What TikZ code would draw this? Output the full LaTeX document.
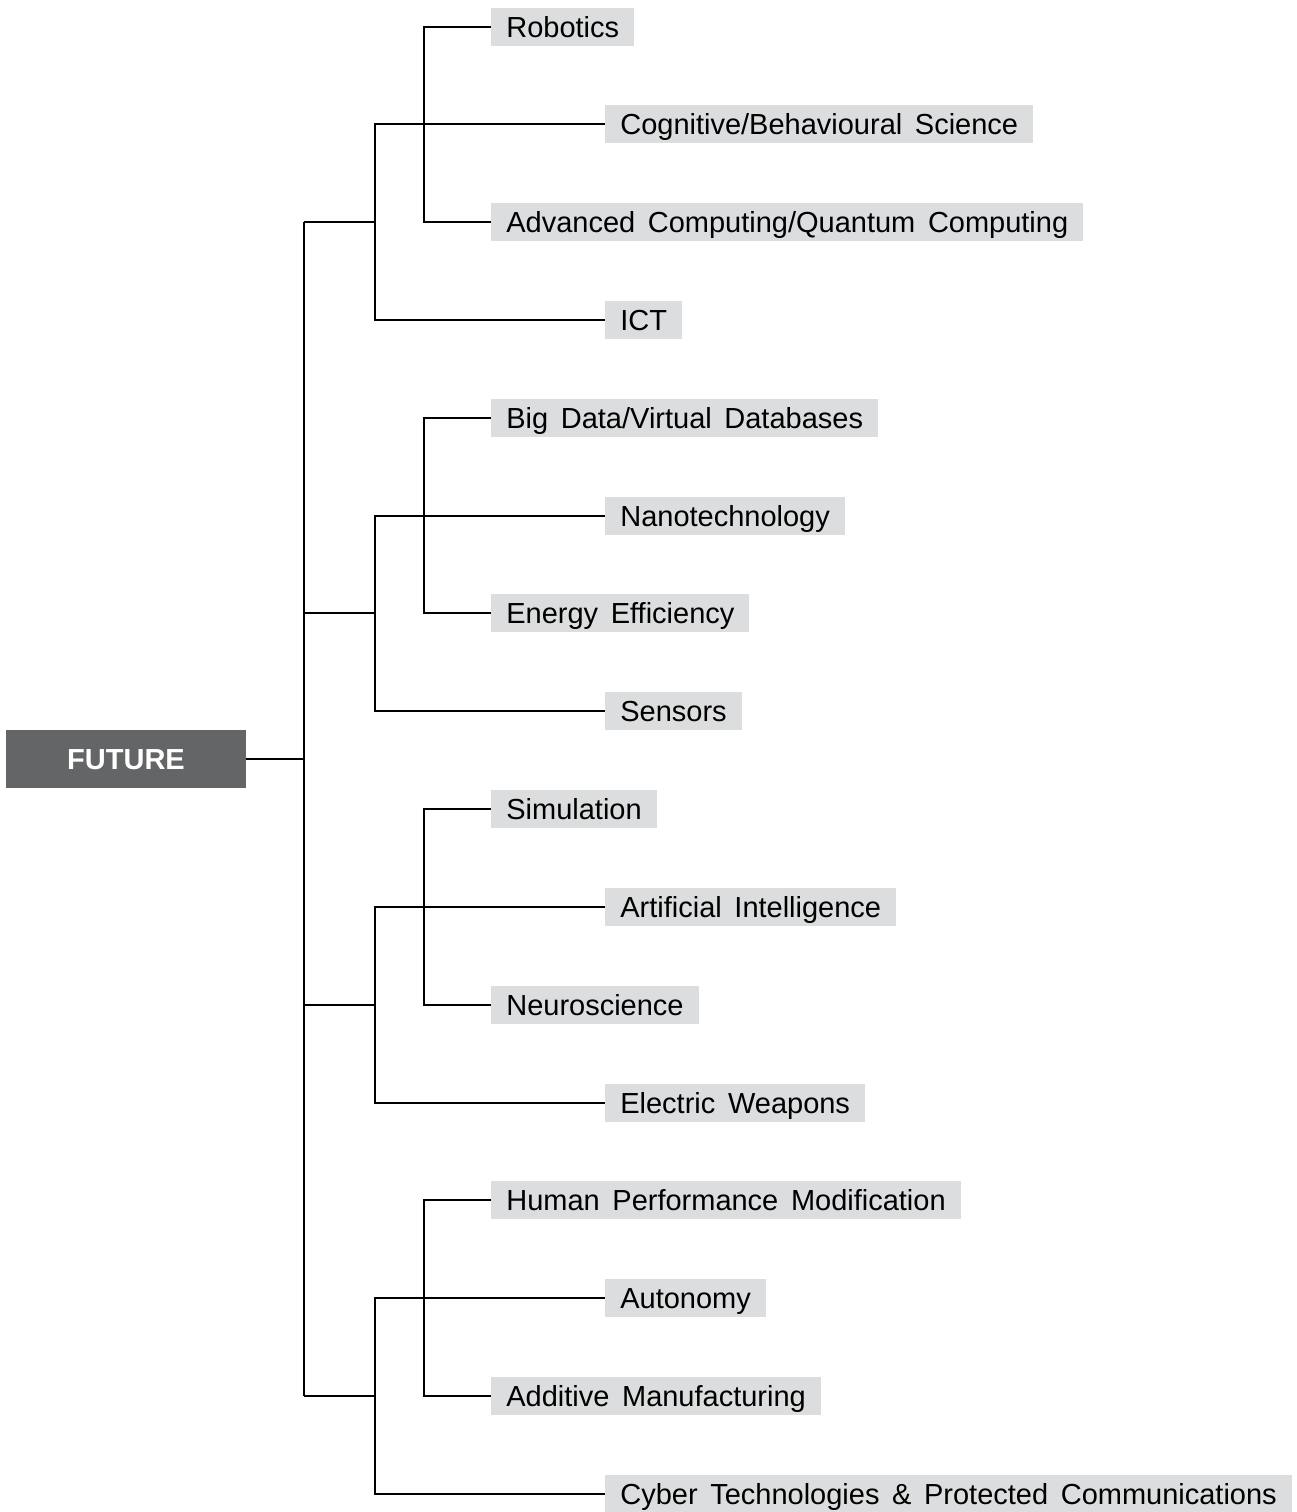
\documentclass[tikz,border=0pt]{standalone}
\usepackage{fontspec}
\setmainfont{Liberation Sans}
\usepackage{xcolor}
\usepackage{tikz}
\usetikzlibrary{positioning, calc}

\definecolor{rootgray}{HTML}{646567}
\definecolor{topicgray}{HTML}{DCDDDE}
\newcommand\topicfont{\fontsize{16.5}{19}\selectfont}
\newcommand\widespace{\spaceskip 7.2pt plus 1pt minus 1pt\relax}

\begin{document}
\begin{tikzpicture}[x=0.02cm, y=-0.02cm,
    every node/.style={minimum height=0.76cm, inner xsep=0.3cm, inner ysep=0pt,
      font=\topicfont, text height=11.6pt, text depth=0pt},
    topic/.style={fill=topicgray, anchor=west, execute at begin node=\widespace},
    root/.style={fill=rootgray, text=white, font=\topicfont\bfseries,
      minimum width=4.8cm, minimum height=1.16cm},
    link/.style={line width=0.6pt}]
  \useasboundingbox (0,0) rectangle (1297,1512);

  \node[root] (future) at (126,759) {FUTURE};

  % first group
  \node[topic] (robotics)  at (491,27)  {Robotics};
  \node[topic] (cognitive) at (605,124) {Cognitive/Behavioural Science};
  \node[topic] (advcomp)   at (491,222) {Advanced Computing/Quantum Computing};
  \node[topic] (ict)       at (605,320) {ICT};
  % second group
  \node[topic] (bigdata)   at (491,418) {Big Data/Virtual Databases};
  \node[topic] (nano)      at (605,516) {Nanotechnology};
  \node[topic] (energy)    at (491,613) {Energy Efficiency};
  \node[topic] (sensors)   at (605,711) {Sensors};
  % third group
  \node[topic] (simulation) at (491,809)  {Simulation};
  \node[topic] (ai)         at (605,907)  {Artificial Intelligence};
  \node[topic] (neuro)      at (491,1005) {Neuroscience};
  \node[topic] (weapons)    at (605,1103) {Electric Weapons};
  % fourth group
  \node[topic] (human)     at (491,1200) {Human Performance Modification};
  \node[topic] (autonomy)  at (605,1298) {Autonomy};
  \node[topic] (additive)  at (491,1396) {Additive Manufacturing};
  \node[topic] (cyber)     at (605,1494) {Cyber Technologies \& Protected Communications};

  % trunk
  \coordinate (t1) at (304,222);
  \coordinate (t2) at (304,613);
  \coordinate (t3) at (304,1005);
  \coordinate (t4) at (304,1396);
  \draw[link] (t1) -- (t4);
  \draw[link] (future.east) -- (future.east -| t1);

  % brackets
  \foreach \a/\b/\c/\d/\t in {robotics/cognitive/advcomp/ict/t1,
      bigdata/nano/energy/sensors/t2,
      simulation/ai/neuro/weapons/t3,
      human/autonomy/additive/cyber/t4}{
    \draw[link] (\b.west) -- ++(-230,0) |- (\d.west);
    \draw[link] (\a.west) -- ++(-67,0) |- (\c.west);
    \draw[link] (\t) -- ++(71,0);
  }
\end{tikzpicture}
\end{document}
